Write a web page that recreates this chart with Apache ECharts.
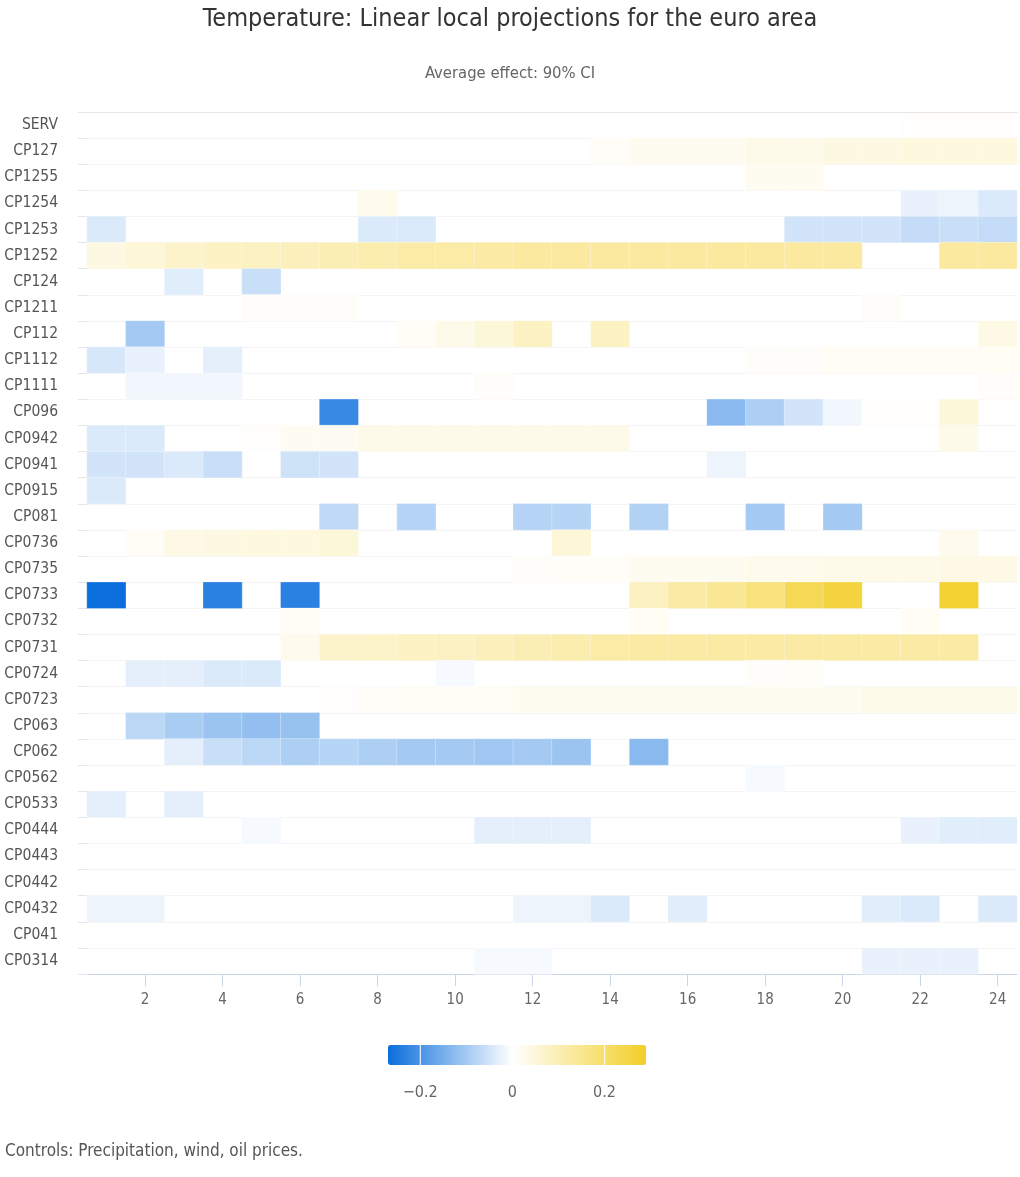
<!DOCTYPE html>
<html>
<head>
<meta charset="utf-8">
<script src="https://cdn.jsdelivr.net/npm/echarts@6/dist/echarts.min.js"></script>
<style>
html,body{margin:0;padding:0;background:#fff;}
#chart{width:1020px;height:1177px;}
</style>
</head>
<body>
<div id="chart"></div>
<script>
const n = null;
const horizons = ['1','2','3','4','5','6','7','8','9','10','11','12','13','14','15','16','17','18','19','20','21','22','23','24'];
const rowNames = ['SERV','CP127','CP1255','CP1254','CP1253','CP1252','CP124','CP1211','CP112','CP1112','CP1111','CP096','CP0942','CP0941','CP0915','CP081','CP0736','CP0735','CP0733','CP0732','CP0731','CP0724','CP0723','CP063','CP062','CP0562','CP0533','CP0444','CP0443','CP0442','CP0432','CP041','CP0314'];

//            1      2      3      4      5      6      7      8      9      10     11     12     13     14     15     16     17     18     19     20     21     22     23     24
const SERV   = [n,     n,     n,     n,     n,     n,     n,     n,     n,     n,     n,     n,     n,     n,     n,     n,     n,     n,     n,     n,     n,     0.003, 0.003, 0.003];
const CP127  = [n,     n,     n,     n,     n,     n,     n,     n,     n,     n,     n,     n,     n,     0.01,  0.02,  0.02,  0.02,  0.03,  0.03,  0.04,  0.04,  0.045, 0.045, 0.045];
const CP1255 = [n,     n,     n,     n,     n,     n,     n,     n,     n,     n,     n,     n,     n,     n,     n,     n,     n,     0.02,  0.02,  n,     n,     n,     n,     n];
const CP1254 = [n,     n,     n,     n,     n,     n,     n,     0.025, n,     n,     n,     n,     n,     n,     n,     n,     n,     n,     n,     n,     n,     -0.025,-0.02, -0.04];
const CP1253 = [-0.04, n,     n,     n,     n,     n,     n,     -0.04, -0.04, n,     n,     n,     n,     n,     n,     n,     n,     n,     -0.05, -0.05, -0.05, -0.065,-0.06, -0.065];
const CP1252 = [0.04,  0.055, 0.07,  0.08,  0.085, 0.09,  0.1,   0.11,  0.12,  0.12,  0.125, 0.13,  0.13,  0.13,  0.13,  0.13,  0.13,  0.13,  0.13,  0.13,  n,     n,     0.13,  0.13];
const CP124  = [n,     n,     -0.035,n,     -0.06, n,     n,     n,     n,     n,     n,     n,     n,     n,     n,     n,     n,     n,     n,     n,     n,     n,     n,     n];
const CP1211 = [n,     n,     n,     n,     0.008, 0.008, 0.008, n,     n,     n,     n,     n,     n,     n,     n,     n,     n,     n,     n,     n,     0.008, n,     n,     n];
const CP112  = [n,     -0.1,  n,     n,     n,     n,     n,     n,     0.012, 0.03,  0.05,  0.08,  n,     0.08,  n,     n,     n,     n,     n,     n,     n,     n,     n,     0.035];
const CP1112 = [-0.045,-0.025,n,     -0.03, n,     n,     n,     n,     n,     n,     n,     n,     n,     n,     n,     n,     n,     0.008, 0.008, 0.015, 0.015, 0.015, 0.015, 0.015];
const CP1111 = [n,     -0.015,-0.015,-0.015,n,     n,     n,     n,     n,     n,     0.008, n,     n,     n,     n,     n,     n,     n,     n,     n,     n,     n,     n,     0.008];
const CP096  = [n,     n,     n,     n,     n,     n,     -0.22, n,     n,     n,     n,     n,     n,     n,     n,     n,     -0.13, -0.09, -0.05, -0.015,0.005, 0.005, 0.05,  n];
const CP0942 = [-0.04, -0.04, n,     n,     0.005, 0.018, 0.018, 0.03,  0.03,  0.03,  0.03,  0.03,  0.03,  0.03,  n,     n,     n,     n,     n,     n,     n,     n,     0.03,  n];
const CP0941 = [-0.05, -0.05, -0.04, -0.06, n,     -0.055,-0.05, n,     n,     n,     n,     n,     n,     n,     n,     n,     -0.02, n,     n,     n,     n,     n,     n,     n];
const CP0915 = [-0.04, n,     n,     n,     n,     n,     n,     n,     n,     n,     n,     n,     n,     n,     n,     n,     n,     n,     n,     n,     n,     n,     n,     n];
const CP081  = [n,     n,     n,     n,     n,     n,     -0.07, n,     -0.08, n,     n,     -0.08, -0.08, n,     -0.085,n,     n,     -0.1,  n,     -0.1,  n,     n,     n,     n];
const CP0736 = [n,     0.012, 0.035, 0.04,  0.045, 0.045, 0.05,  n,     n,     n,     n,     n,     0.055, n,     n,     n,     n,     n,     n,     n,     n,     n,     0.025, n];
const CP0735 = [n,     n,     n,     n,     n,     n,     n,     n,     n,     n,     n,     0.008, 0.01,  0.01,  0.02,  0.02,  0.02,  0.025, 0.025, 0.03,  0.03,  0.03,  0.035, 0.035];
const CP0733 = [-0.27, n,     n,     -0.235,n,     -0.235,n,     n,     n,     n,     n,     n,     n,     n,     0.085, 0.125, 0.145, 0.175, 0.23,  0.26,  n,     n,     0.275, n];
const CP0732 = [n,     n,     n,     n,     n,     0.012, n,     n,     n,     n,     n,     n,     n,     n,     0.015, n,     n,     n,     n,     n,     n,     0.015, n,     n];
const CP0731 = [n,     n,     n,     n,     n,     0.025, 0.07,  0.075, 0.08,  0.085, 0.09,  0.1,   0.11,  0.12,  0.125, 0.125, 0.125, 0.125, 0.125, 0.125, 0.125, 0.125, 0.125, n];
const CP0724 = [n,     -0.03, -0.03, -0.04, -0.04, n,     n,     n,     n,     -0.01, n,     n,     n,     n,     n,     n,     n,     0.008, 0.01,  n,     n,     n,     n,     n];
const CP0723 = [n,     n,     n,     n,     n,     n,     0.005, 0.01,  0.015, 0.015, 0.015, 0.02,  0.02,  0.02,  0.02,  0.02,  0.02,  0.02,  0.02,  0.02,  0.03,  0.03,  0.03,  0.03];
const CP063  = [n,     -0.075,-0.095,-0.11, -0.12, -0.115,n,     n,     n,     n,     n,     n,     n,     n,     n,     n,     n,     n,     n,     n,     n,     n,     n,     n];
const CP062  = [n,     n,     -0.03, -0.06, -0.075,-0.09, -0.08, -0.09, -0.1,  -0.1,  -0.105,-0.1,  -0.11, n,     -0.13, n,     n,     n,     n,     n,     n,     n,     n,     n];
const CP0562 = [n,     n,     n,     n,     n,     n,     n,     n,     n,     n,     n,     n,     n,     n,     n,     n,     n,     -0.01, n,     n,     n,     n,     n,     n];
const CP0533 = [-0.03, n,     -0.03, n,     n,     n,     n,     n,     n,     n,     n,     n,     n,     n,     n,     n,     n,     n,     n,     n,     n,     n,     n,     n];
const CP0444 = [n,     n,     n,     n,     -0.01, n,     n,     n,     n,     n,     -0.03, -0.03, -0.03, n,     n,     n,     n,     n,     n,     n,     n,     -0.025,-0.035,-0.035];
const CP0443 = [n,     n,     n,     n,     n,     n,     n,     n,     n,     n,     n,     n,     n,     n,     n,     n,     n,     n,     n,     n,     n,     n,     n,     n];
const CP0442 = [n,     n,     n,     n,     n,     n,     n,     n,     n,     n,     n,     n,     n,     n,     n,     n,     n,     n,     n,     n,     n,     n,     n,     n];
const CP0432 = [-0.02, -0.02, n,     n,     n,     n,     n,     n,     n,     n,     n,     -0.02, -0.02, -0.04, n,     -0.035,n,     n,     n,     n,     -0.035,-0.04, n,     -0.04];
const CP041  = [n,     n,     n,     n,     n,     n,     n,     n,     n,     n,     n,     n,     n,     n,     n,     n,     n,     n,     n,     n,     n,     n,     n,     n];
const CP0314 = [n,     n,     n,     n,     n,     n,     n,     n,     n,     n,     -0.01, -0.01, n,     n,     n,     n,     n,     n,     n,     n,     -0.025,-0.025,-0.025,n];

const rowValues = [SERV, CP127, CP1255, CP1254, CP1253, CP1252, CP124, CP1211, CP112, CP1112, CP1111, CP096, CP0942, CP0941, CP0915, CP081, CP0736, CP0735, CP0733, CP0732, CP0731, CP0724, CP0723, CP063, CP062, CP0562, CP0533, CP0444, CP0443, CP0442, CP0432, CP041, CP0314];
const legendTicks = [-0.2, 0, 0.2];
const scaleMin = -0.27, scaleMax = 0.29;

// build heatmap triples
const cells = [];
rowValues.forEach((row, yi) => {
  row.forEach((v, xi) => { if (v !== null) cells.push([xi, yi, v]); });
});

// colour ramp: blue -> white (at 0) -> yellow
const blue = [10, 110, 220], white = [255, 255, 255], yellow = [243, 207, 40];
function mix(a, b, t) { return 'rgb(' + a.map((c, i) => Math.round(c + (b[i] - c) * t)).join(',') + ')'; }
const ramp = [];
const steps = 56;
for (let i = 0; i <= steps; i++) {
  const v = scaleMin + (scaleMax - scaleMin) * i / steps;
  if (v < 0) ramp.push(mix(white, blue, v / scaleMin));
  else ramp.push(mix(white, yellow, v / scaleMax));
}

const FONT = "'Liberation Sans Narrow', 'DejaVu Sans Condensed', 'Open Sans', sans-serif";
const barLeft = 388, barLen = 258, barTop = 1045, barThick = 20;
const xOf = v => barLeft + (v - scaleMin) / (scaleMax - scaleMin) * barLen;

const graphics = [];
legendTicks.forEach(t => {
  graphics.push({ type: 'rect', z: 100, shape: { x: xOf(t) - 0.5, y: barTop, width: 1.2, height: barThick }, style: { fill: 'rgba(255,255,255,0.85)' } });
  graphics.push({ type: 'text', z: 100, x: xOf(t), y: 1093, style: { text: t === 0 ? '0' : (t < 0 ? '\u2212' + Math.abs(t) : String(t)), fill: '#666', font: '16px ' + FONT, align: 'center', verticalAlign: 'middle' } });
});

const chart = echarts.init(document.getElementById('chart'), null, { renderer: 'canvas' });
chart.setOption({
  backgroundColor: '#fff',
  animation: false,
  title: [
    { text: 'Temperature: Linear local projections for the euro area', left: 'center', top: 2, textStyle: { fontFamily: FONT, fontSize: 25, fontWeight: 'normal', color: '#333' } },
    { text: 'Average effect: 90% CI', left: 'center', top: 60, textStyle: { fontFamily: FONT, fontSize: 16.5, fontWeight: 'normal', color: '#666' } },
    { text: 'Controls: Precipitation, wind, oil prices.', left: 5, top: 1143, padding: 0, textStyle: { fontFamily: FONT, fontSize: 17, fontWeight: 'normal', color: '#555' } }
  ],
  grid: { left: 87, right: 3, top: 112, bottom: 203, containLabel: false },
  xAxis: [{
    type: 'category', data: horizons, position: 'bottom',
    axisLine: { lineStyle: { color: '#ccd6eb' } },
    axisTick: { show: true, alignWithLabel: true, length: 12, interval: (i) => i % 2 === 1, lineStyle: { color: '#ccd6eb' } },
    axisLabel: { interval: (i) => i % 2 === 1, margin: 19, color: '#666', fontFamily: FONT, fontSize: 15 },
    splitLine: { show: false }
  }, {
    type: 'category', data: horizons, position: 'top', z: 5,
    axisLine: { lineStyle: { color: '#e6e6e6' } }, axisTick: { show: false }, axisLabel: { show: false }, splitLine: { show: false }
  }],
  yAxis: {
    type: 'category', data: rowNames, inverse: true,
    axisLine: { show: false },
    axisTick: { show: true, length: 9, lineStyle: { color: '#e6e6e6' } },
    axisLabel: { color: '#555', fontFamily: FONT, fontSize: 15.5, margin: 29 },
    splitLine: { show: true, lineStyle: { color: '#f4f4f4', width: 1 } }
  },
  visualMap: {
    type: 'continuous', min: scaleMin, max: scaleMax, orient: 'horizontal',
    left: barLeft, top: barTop, itemWidth: barThick, itemHeight: barLen, padding: 0,
    calculable: false, text: null, showLabel: false, realtime: false,
    inRange: { color: ramp }
  },
  graphic: graphics,
  series: [{
    type: 'heatmap', data: cells,
    itemStyle: { borderColor: 'rgba(255,255,255,0.6)', borderWidth: 0.5 },
    emphasis: { disabled: true }
  }]
});
</script>
</body>
</html>
